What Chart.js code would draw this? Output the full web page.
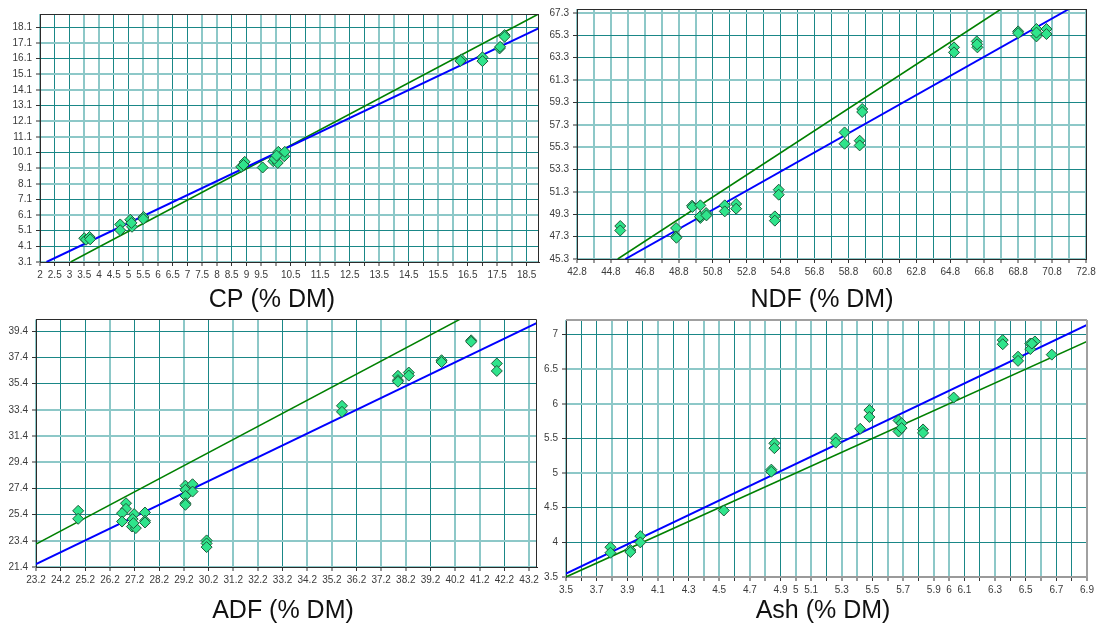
<!DOCTYPE html>
<html>
<head>
<meta charset="utf-8">
<script src="https://cdn.jsdelivr.net/npm/chart.js@4.4.1/dist/chart.umd.min.js"></script>
<style>
html,body{margin:0;padding:0;background:#fff;}
body{width:1099px;height:627px;overflow:hidden;position:relative;}
.w{position:absolute;}
</style>
</head>
<body>
<div class="w" style="left:0px;top:0px;width:545px;height:313px;"><canvas id="c1"></canvas></div>
<div class="w" style="left:543px;top:0px;width:556px;height:313px;"><canvas id="c2"></canvas></div>
<div class="w" style="left:0px;top:313px;width:543px;height:314px;"><canvas id="c3"></canvas></div>
<div class="w" style="left:540px;top:313px;width:559px;height:314px;"><canvas id="c4"></canvas></div>
<script>
// ---------- titles ----------
const panelTitles = ['CP (% DM)', 'NDF (% DM)', 'ADF (% DM)', 'Ash (% DM)'];

// ---------- CP ----------
const cpX = [3.5, 3.56, 3.68, 3.7, 4.72, 4.72, 5.06, 5.12, 5.1, 5.51, 5.5, 8.82, 8.94, 8.9, 9.55, 9.91, 10.06, 10.08, 10.28, 10.3, 9.95, 10.02, 16.29, 16.25, 17.0, 17.0, 17.58, 17.6, 17.75, 17.75];
const cpY = [4.62, 4.52, 4.7, 4.55, 5.5, 5.13, 5.8, 5.35, 5.6, 5.98, 5.85, 9.18, 9.5, 9.3, 9.14, 9.54, 9.43, 10.14, 9.86, 10.14, 9.7, 9.9, 16.05, 15.95, 16.18, 15.94, 16.75, 16.85, 17.6, 17.5];
const cpBlueX = [2.22, 18.9];
const cpBlueY = [3.1, 18.03];
const cpGreenX = [3.04, 18.9];
const cpGreenY = [3.1, 18.95];
const cpXTicks = [2, 2.5, 3, 3.5, 4, 4.5, 5, 5.5, 6, 6.5, 7, 7.5, 8, 8.5, 9, 9.5, 10, 10.5, 11, 11.5, 12, 12.5, 13, 13.5, 14, 14.5, 15, 15.5, 16, 16.5, 17, 17.5, 18, 18.5];
const cpXLabels = [2, 2.5, 3, 3.5, 4, 4.5, 5, 5.5, 6, 6.5, 7, 7.5, 8, 8.5, 9, 9.5, 10.5, 11.5, 12.5, 13.5, 14.5, 15.5, 16.5, 17.5, 18.5];
const cpYTicks = [3.1, 4.1, 5.1, 6.1, 7.1, 8.1, 9.1, 10.1, 11.1, 12.1, 13.1, 14.1, 15.1, 16.1, 17.1, 18.1];

// ---------- NDF ----------
const ndfX = [45.35, 45.35, 48.64, 48.64, 48.66, 49.58, 49.6, 50.07, 50.07, 50.05, 50.41, 50.43, 51.51, 51.51, 52.18, 52.18, 54.46, 54.46, 54.69, 54.69, 58.57, 58.57, 59.46, 59.46, 59.61, 59.61, 65.02, 65.02, 66.36, 66.4, 66.38, 68.8, 68.8, 69.88, 69.88, 69.88, 70.47, 70.47];
const ndfY = [48.25, 47.85, 48.07, 47.32, 47.2, 50.07, 49.95, 50.1, 48.97, 49.1, 49.41, 49.2, 50.1, 49.56, 50.22, 49.8, 49.11, 48.73, 51.5, 51.05, 56.62, 55.61, 55.88, 55.46, 58.72, 58.45, 64.23, 63.78, 64.76, 64.23, 64.5, 65.66, 65.5, 65.87, 65.21, 65.55, 65.87, 65.42];
const ndfBlueX = [45.65, 71.8];
const ndfBlueY = [45.3, 67.66];
const ndfGreenX = [45.2, 67.8];
const ndfGreenY = [45.3, 67.66];
const ndfXTicks = [42.8, 43.8, 44.8, 45.8, 46.8, 47.8, 48.8, 49.8, 50.8, 51.8, 52.8, 53.8, 54.8, 55.8, 56.8, 57.8, 58.8, 59.8, 60.8, 61.8, 62.8, 63.8, 64.8, 65.8, 66.8, 67.8, 68.8, 69.8, 70.8, 71.8, 72.8];
const ndfXLabels = [42.8, 44.8, 46.8, 48.8, 50.8, 52.8, 54.8, 56.8, 58.8, 60.8, 62.8, 64.8, 66.8, 68.8, 70.8, 72.8];
const ndfYTicks = [45.3, 47.3, 49.3, 51.3, 53.3, 55.3, 57.3, 59.3, 61.3, 63.3, 65.3, 67.3];

// ---------- ADF ----------
const adfX = [24.91, 24.91, 26.85, 26.85, 26.69, 26.69, 27.18, 27.12, 27.09, 27.25, 27.15, 27.62, 27.62, 27.62, 29.26, 29.26, 29.26, 29.26, 29.26, 29.55, 29.55, 30.12, 30.12, 30.12, 35.61, 35.61, 37.88, 37.88, 37.88, 38.32, 38.32, 39.65, 39.65, 40.85, 40.85, 41.89, 41.89];
const adfY = [25.69, 25.08, 26.27, 25.84, 25.51, 24.87, 25.44, 25.06, 24.49, 24.37, 24.75, 25.56, 24.93, 24.8, 27.61, 27.29, 26.83, 26.27, 26.15, 27.72, 27.16, 23.43, 23.2, 22.92, 33.71, 33.25, 36.0, 35.67, 35.55, 36.25, 36.02, 37.19, 37.05, 38.71, 38.6, 36.94, 36.37];
const adfBlueX = [23.2, 43.5];
const adfBlueY = [21.63, 40.03];
const adfGreenX = [23.2, 40.39];
const adfGreenY = [23.15, 40.31];
const adfXTicks = [23.2, 24.2, 25.2, 26.2, 27.2, 28.2, 29.2, 30.2, 31.2, 32.2, 33.2, 34.2, 35.2, 36.2, 37.2, 38.2, 39.2, 40.2, 41.2, 42.2, 43.2];
const adfYTicks = [21.4, 23.4, 25.4, 27.4, 29.4, 31.4, 33.4, 35.4, 37.4, 39.4];

// ---------- Ash ----------
const ashX = [3.79, 3.79, 3.92, 3.92, 3.985, 3.985, 4.53, 4.84, 4.84, 4.86, 4.86, 5.26, 5.26, 5.42, 5.48, 5.48, 5.67, 5.67, 5.69, 5.69, 5.83, 5.83, 6.03, 6.35, 6.35, 6.45, 6.45, 6.53, 6.53, 6.56, 6.54, 6.67];
const ashY = [3.93, 3.85, 3.89, 3.86, 4.09, 4.0, 4.46, 5.05, 5.02, 5.43, 5.36, 5.5, 5.44, 5.64, 5.91, 5.81, 5.76, 5.6, 5.72, 5.65, 5.63, 5.58, 6.09, 6.92, 6.86, 6.68, 6.62, 6.87, 6.79, 6.9, 6.87, 6.71];
const ashBlueX = [3.5, 6.9];
const ashBlueY = [3.55, 7.14];
const ashGreenX = [3.5, 6.9];
const ashGreenY = [3.5, 6.9];
const ashXTicks = [3.5, 3.6, 3.7, 3.8, 3.9, 4, 4.1, 4.2, 4.3, 4.4, 4.5, 4.6, 4.7, 4.8, 4.9, 5, 5.1, 5.2, 5.3, 5.4, 5.5, 5.6, 5.7, 5.8, 5.9, 6, 6.1, 6.2, 6.3, 6.4, 6.5, 6.6, 6.7, 6.8, 6.9];
const ashXLabels = [3.5, 3.7, 3.9, 4.1, 4.3, 4.5, 4.7, 4.9, 5, 5.1, 5.3, 5.5, 5.7, 5.9, 6, 6.1, 6.3, 6.5, 6.7, 6.9];
const ashYTicks = [3.5, 4, 4.5, 5, 5.5, 6, 6.5, 7];

// ---------- rendering ----------
Chart.defaults.font.family = '"Liberation Sans", Arial, sans-serif';
Chart.defaults.font.size = 10;
Chart.defaults.animation = false;

const GRID_DARK = '#1a8787';
const GRID_LIGHT = '#8dc8c8';
const LABEL_COLOR = '#3b3b3b';

function pts(xs, ys) { return xs.map((x, i) => ({ x: x, y: ys[i] })); }

function crisp(ctx) {
  if (!ctx.tick || !ctx.scale) return true;
  const p = ctx.scale.getPixelForValue(ctx.tick.value);
  if (!isFinite(p)) return true;
  const f = p - Math.floor(p);
  return f >= 0.25 && f < 0.75;
}

function axis(o) {
  return {
    type: 'linear',
    position: o.pos,
    min: o.min,
    max: o.max,
    afterBuildTicks: s => { s.ticks = o.ticks.map(v => ({ value: v })); },
    afterFit: s => {
      if (o.pos === 'left') s.width = o.size; else s.height = o.size;
      s.paddingLeft = 0; s.paddingRight = 0; s.paddingTop = 0; s.paddingBottom = 0;
    },
    ticks: {
      autoSkip: false, maxRotation: 0, minRotation: 0,
      padding: o.pos === 'left' ? 4 : 3,
      color: LABEL_COLOR,
      font: { size: 10 },
      callback: v => (o.labels.includes(v) ? String(v) : '')
    },
    grid: {
      color: ctx => (crisp(ctx) ? GRID_DARK : GRID_LIGHT),
      lineWidth: ctx => (crisp(ctx) ? 1 : 2),
      tickColor: '#333333',
      tickWidth: 1,
      tickLength: 4,
      drawTicks: true
    },
    border: { display: true, color: o.borderColor || '#2b2b2b', width: o.borderWidth || 1 }
  };
}

const framePlugin = {
  id: 'frame',
  afterDatasetsDraw(chart, args, o) {
    const a = chart.chartArea, c = chart.ctx;
    const w = o.width;
    const al = v => Math.round(v - w / 2) + w / 2;
    c.save();
    c.strokeStyle = o.color;
    c.lineWidth = w;
    c.beginPath();
    c.moveTo(a.left, al(a.top));
    c.lineTo(a.right, al(a.top));
    c.moveTo(al(a.right), a.top);
    c.lineTo(al(a.right), a.bottom);
    c.stroke();
    c.restore();
  }
};

const titlePlugin = {
  id: 'panelTitle',
  afterDraw(chart, args, o) {
    const c = chart.ctx;
    c.save();
    c.font = o.font;
    c.fillStyle = o.color;
    c.textAlign = 'center';
    c.textBaseline = 'alphabetic';
    c.fillText(o.text, o.x, o.y);
    c.restore();
  }
};

function makeChart(id, p) {
  return new Chart(document.getElementById(id), {
    type: 'scatter',
    data: {
      datasets: [
        {
          label: 'observed',
          data: pts(p.xs, p.ys),
          pointStyle: 'rectRot',
          pointRadius: 5.5,
          pointHoverRadius: 5.5,
          backgroundColor: '#2fe48b',
          borderColor: '#1f5a3a',
          borderWidth: 1
        },
        {
          label: 'fit',
          data: p.blue,
          showLine: true,
          pointRadius: 0,
          borderColor: '#0000ff',
          borderWidth: 2,
          fill: false
        },
        {
          label: '1:1',
          data: p.green,
          showLine: true,
          pointRadius: 0,
          borderColor: '#008000',
          borderWidth: 1.6,
          fill: false
        }
      ]
    },
    options: {
      responsive: true,
      maintainAspectRatio: false,
      animation: false,
      events: [],
      layout: { padding: p.padding },
      scales: {
        x: axis(Object.assign({ pos: 'bottom' }, p.x)),
        y: axis(Object.assign({ pos: 'left' }, p.y))
      },
      plugins: {
        legend: { display: false },
        tooltip: { enabled: false },
        frame: p.frame,
        panelTitle: Object.assign({ font: '25px "Liberation Sans", Arial, sans-serif', color: '#111111' }, p.title)
      }
    },
    plugins: [framePlugin, titlePlugin]
  });
}

makeChart('c1', {
  xs: cpX, ys: cpY,
  blue: pts(cpBlueX, cpBlueY), green: pts(cpGreenX, cpGreenY),
  x: { min: 2, max: 18.9, ticks: cpXTicks, labels: cpXLabels, size: 22 },
  y: { min: 3.1, max: 18.95, ticks: cpYTicks, labels: cpYTicks, size: 40 },
  padding: { left: 0, top: 14, right: 3, bottom: 29 },
  frame: { color: '#2b2b2b', width: 1 },
  title: { text: panelTitles[0], x: 272, y: 307 }
});

makeChart('c2', {
  xs: ndfX, ys: ndfY,
  blue: pts(ndfBlueX, ndfBlueY), green: pts(ndfGreenX, ndfGreenY),
  x: { min: 42.8, max: 72.8, ticks: ndfXTicks, labels: ndfXLabels, size: 22 },
  y: { min: 45.3, max: 67.66, ticks: ndfYTicks, labels: ndfYTicks, size: 34 },
  padding: { left: 0, top: 9, right: 13, bottom: 32 },
  frame: { color: '#2b2b2b', width: 1 },
  title: { text: panelTitles[1], x: 279, y: 307 }
});

makeChart('c3', {
  xs: adfX, ys: adfY,
  blue: pts(adfBlueX, adfBlueY), green: pts(adfGreenX, adfGreenY),
  x: { min: 23.2, max: 43.5, ticks: adfXTicks, labels: adfXTicks, size: 22 },
  y: { min: 21.4, max: 40.3, ticks: adfYTicks, labels: adfYTicks, size: 36 },
  padding: { left: 0, top: 6, right: 1, bottom: 38 },
  frame: { color: '#2b2b2b', width: 1 },
  title: { text: panelTitles[2], x: 283, y: 305 }
});

makeChart('c4', {
  xs: ashX, ys: ashY,
  blue: pts(ashBlueX, ashBlueY), green: pts(ashGreenX, ashGreenY),
  x: { min: 3.5, max: 6.9, ticks: ashXTicks, labels: ashXLabels, size: 22, borderColor: '#9a9a9a', borderWidth: 2 },
  y: { min: 3.5, max: 7.21, ticks: ashYTicks, labels: ashYTicks, size: 26 },
  padding: { left: 0, top: 7, right: 12, bottom: 28 },
  frame: { color: '#a0a0a0', width: 2 },
  title: { text: panelTitles[3], x: 283, y: 305 }
});
</script>
</body>
</html>
